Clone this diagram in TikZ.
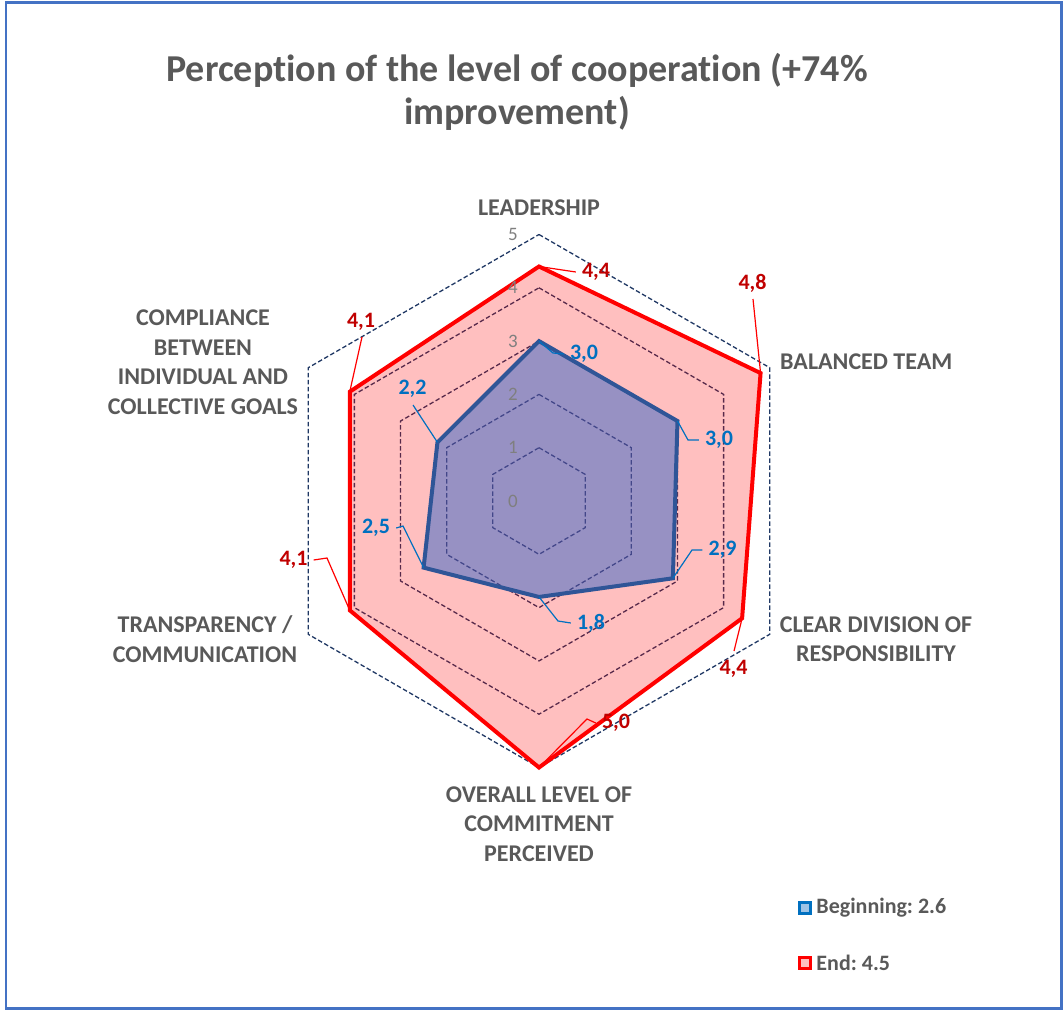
\documentclass[tikz,border=0pt]{standalone}
\usepackage{fontspec}
\setmainfont[Ligatures = NoCommon]{Carlito}
\frenchspacing
\usetikzlibrary{positioning}

\definecolor{textgray}{HTML}{595959}
\definecolor{tickgray}{HTML}{7F7F7F}
\definecolor{gridnavy}{HTML}{203864}
\definecolor{startline}{HTML}{2F5597}
\definecolor{startfill}{HTML}{3165C9}
\definecolor{startlabel}{HTML}{0070C0}
\definecolor{startlight}{HTML}{9DC3E6}
\definecolor{endred}{HTML}{FF0000}
\definecolor{endlabel}{HTML}{C00000}
\definecolor{endlight}{HTML}{FFBFBF}
\definecolor{frameblue}{HTML}{4472C4}

\newlength{\ring}

\tikzset{
  gridring/.style = {draw = gridnavy, line width = 1.3pt, dash pattern = on 4.5pt off 2.5pt},
  catlabel/.style = {text = textgray, font = \bfseries\fontsize{24}{29.5}\selectfont, align = center, inner sep = 0pt},
  ticklabel/.style = {text = tickgray, font = \fontsize{19}{22}\selectfont, inner sep = 0pt},
  startval/.style = {text = startlabel, font = \bfseries\fontsize{22}{26}\selectfont, inner xsep = 6pt, inner ysep = 1pt},
  endval/.style = {text = endlabel, font = \bfseries\fontsize{22}{26}\selectfont, inner xsep = 6pt, inner ysep = 1pt},
  startlead/.style = {draw = startlabel, line width = 1.2pt},
  endlead/.style = {draw = endred, line width = 1.2pt},
  legbox/.style = {minimum size = 11.5pt, inner sep = 0pt, line width = 3pt},
  legtext/.style = {text = textgray, font = \bfseries\fontsize{22}{26}\selectfont, inner sep = 0pt}
}

\begin{document}
\begin{tikzpicture}[x = 1pt, y = 1pt]
  \setlength{\ring}{53.3pt}
  \useasboundingbox (0, 0) rectangle (1064, -1010);

  \draw[draw = frameblue, line width = 2.5pt] (6, -2.5) rectangle (1061.5, -1008.5);

  \node[text = textgray, font = \bfseries\fontsize{38}{43}\selectfont, align = center, anchor = base]
    (title) at (517, -124) {Perception of the level of cooperation (+74\%\\improvement)};

  \begin{scope}[shift = {(539, -501)}]
    \draw[gridring] (90:1\ring) -- (30:1\ring) -- (-30:1\ring) -- (-90:1\ring) -- (-150:1\ring) -- (150:1\ring) -- cycle;
    \draw[gridring] (90:2\ring) -- (30:2\ring) -- (-30:2\ring) -- (-90:2\ring) -- (-150:2\ring) -- (150:2\ring) -- cycle;
    \draw[gridring] (90:3\ring) -- (30:3\ring) -- (-30:3\ring) -- (-90:3\ring) -- (-150:3\ring) -- (150:3\ring) -- cycle;
    \draw[gridring] (90:4\ring) -- (30:4\ring) -- (-30:4\ring) -- (-90:4\ring) -- (-150:4\ring) -- (150:4\ring) -- cycle;
    \draw[gridring] (90:5\ring) -- (30:5\ring) -- (-30:5\ring) -- (-90:5\ring) -- (-150:5\ring) -- (150:5\ring) -- cycle;

    \coordinate (e1) at (90:4.4\ring);
    \coordinate (e2) at (30:4.8\ring);
    \coordinate (e3) at (-30:4.4\ring);
    \coordinate (e4) at (-90:5.0\ring);
    \coordinate (e5) at (-150:4.1\ring);
    \coordinate (e6) at (150:4.1\ring);

    \coordinate (b1) at (90:3.0\ring);
    \coordinate (b2) at (30:3.0\ring);
    \coordinate (b3) at (-30:2.9\ring);
    \coordinate (b4) at (-90:1.8\ring);
    \coordinate (b5) at (-150:2.5\ring);
    \coordinate (b6) at (150:2.2\ring);

    \fill[fill = endred, fill opacity = 0.25] (e1) -- (e2) -- (e3) -- (e4) -- (e5) -- (e6) -- cycle;
    \draw[draw = endred, line width = 4pt] (e1) -- (e2) -- (e3) -- (e4) -- (e5) -- (e6) -- cycle;

    \fill[fill = startfill, fill opacity = 0.5] (b1) -- (b2) -- (b3) -- (b4) -- (b5) -- (b6) -- cycle;
    \draw[draw = startline, line width = 4pt] (b1) -- (b2) -- (b3) -- (b4) -- (b5) -- (b6) -- cycle;

    \node[ticklabel] (t0) at (-26, 0) {0};
    \node[ticklabel] (t1) at (-26, 53.3) {1};
    \node[ticklabel] (t2) at (-26, 106.6) {2};
    \node[ticklabel] (t3) at (-26, 159.9) {3};
    \node[ticklabel] (t4) at (-26, 213.2) {4};
    \node[ticklabel] (t5) at (-26, 266.5) {5};
  \end{scope}

  \node[catlabel] (leadership) at (539, -208) {LEADERSHIP};
  \node[catlabel, anchor = west] (balanced) at (780, -362) {BALANCED TEAM};
  \node[catlabel] (division) at (876, -639) {CLEAR DIVISION OF\\RESPONSIBILITY};
  \node[catlabel] (overall) at (539, -824) {OVERALL LEVEL OF\\COMMITMENT\\PERCEIVED};
  \node[catlabel] (transparency) at (205, -639) {TRANSPARENCY /\\COMMUNICATION};
  \node[catlabel] (compliance) at (203, -362) {COMPLIANCE\\BETWEEN\\INDIVIDUAL AND\\COLLECTIVE GOALS};

  \node[startval] (lb1) at (584, -354) {3,0};
  \node[startval] (lb2) at (719, -440) {3,0};
  \node[startval] (lb3) at (722.5, -550) {2,9};
  \node[startval] (lb4) at (591, -623) {1,8};
  \node[startval] (lb5) at (376, -528) {2,5};
  \node[startval] (lb6) at (412.5, -389) {2,2};

  \coordinate (kb1) at (553, -353);
  \coordinate (kb2) at (688, -440);
  \coordinate (kb3) at (692, -550);
  \coordinate (kb4) at (558, -621);
  \coordinate (kb5) at (403, -526);
  \coordinate (kb6) at (413, -405);

  \draw[startlead] (b1) -- (kb1) -- (lb1.west);
  \draw[startlead] (b2) -- (kb2) -- (lb2.west);
  \draw[startlead] (b3) -- (kb3) -- (lb3.west);
  \draw[startlead] (b4) -- (kb4) -- (lb4.west);
  \draw[startlead] (b5) -- (kb5) -- (lb5.east);
  \draw[startlead] (b6) -- (kb6);

  \node[endval] (le1) at (596, -272) {4,4};
  \node[endval] (le2) at (752.5, -283) {4,8};
  \node[endval] (le3) at (733.5, -669) {4,4};
  \node[endval] (le4) at (616, -723) {5,0};
  \node[endval] (le5) at (293.5, -560) {4,1};
  \node[endval] (le6) at (361, -322) {4,1};

  \coordinate (ke2) at (753, -299);
  \coordinate (ke3) at (734, -651);
  \coordinate (ke4) at (587, -719);
  \coordinate (ke5) at (327, -558);
  \coordinate (ke6) at (362, -337);

  \draw[endlead] (e1) -- (le1.west);
  \draw[endlead] (e2) -- (ke2);
  \draw[endlead] (e3) -- (ke3);
  \draw[endlead] (e4) -- (ke4) -- (le4.west);
  \draw[endlead] (e5) -- (ke5) -- (le5.east);
  \draw[endlead] (e6) -- (ke6);

  \node[legbox, draw = startlabel, fill = startlight] (legstart) at (805, -908) {};
  \node[legtext, right = 4pt of legstart] (legstarttext) {Beginning: 2.6};
  \node[legbox, draw = endred, fill = endlight] (legend) at (805, -963) {};
  \node[legtext, right = 4pt of legend] (legendtext) {End: 4.5};
\end{tikzpicture}
\end{document}
